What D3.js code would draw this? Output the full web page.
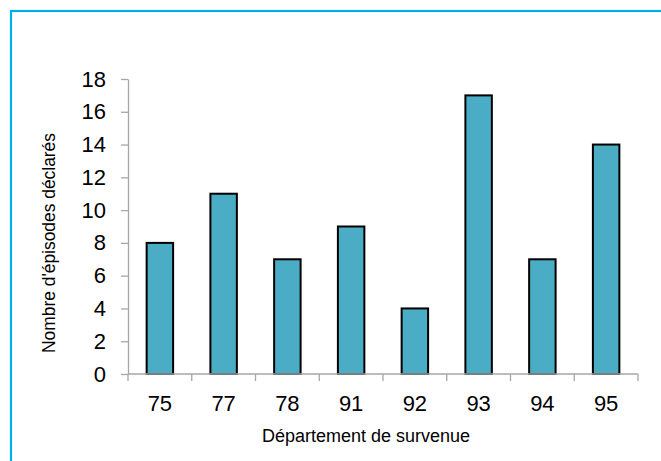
<!DOCTYPE html>
<html>
<head>
<meta charset="utf-8">
<script src="https://cdn.jsdelivr.net/npm/d3@7"></script>
<style>
  html, body { margin: 0; padding: 0; background: #fff; }
  svg { display: block; }
</style>
</head>
<body>
<svg id="chart" width="661" height="461"></svg>
<script>
// Episodes declared per département
const departements = ["75", "77", "78", "91", "92", "93", "94", "95"];
const episodes = [8, 11, 7, 9, 4, 17, 7, 14];
const yTicks = [0, 2, 4, 6, 8, 10, 12, 14, 16, 18];
const xTitle = "Département de survenue";
const yTitle = "Nombre d'épisodes déclarés";

const svg = d3.select("#chart");
const plotLeft = 128, plotRight = 638, plotTop = 79, plotBottom = 374;

// outer frame (open at right/bottom edges of the view)
svg.append("rect")
  .attr("x", 11).attr("y", 11)
  .attr("width", 700).attr("height", 500)
  .attr("fill", "none")
  .attr("stroke", "#00AEE8")
  .attr("stroke-width", 2.2);

const x = d3.scaleBand().domain(departements).range([plotLeft, plotRight]).paddingInner(0).paddingOuter(0);
const y = d3.scaleLinear().domain([0, 18]).range([plotBottom, plotTop]);

const axisColor = "#A6A6A6";
const tickFont = "'Liberation Sans', Arial, sans-serif";

// y axis
const yAxis = svg.append("g")
  .attr("transform", `translate(${plotLeft},0)`)
  .call(d3.axisLeft(y).tickValues(yTicks).tickSize(7).tickPadding(15).tickSizeOuter(0));
yAxis.select(".domain").attr("stroke", axisColor).attr("stroke-width", 1.3);
yAxis.selectAll(".tick line").attr("stroke", axisColor).attr("stroke-width", 1.3);
yAxis.selectAll(".tick text")
  .attr("fill", "#000")
  .style("font-family", tickFont)
  .style("font-size", "22px");

// bars
const barW = x.bandwidth() * 0.415;
svg.append("g").selectAll("rect")
  .data(departements.map((d, i) => ({ d, v: episodes[i] })))
  .join("rect")
  .attr("x", p => x(p.d) + (x.bandwidth() - barW) / 2)
  .attr("y", p => y(p.v))
  .attr("width", barW)
  .attr("height", p => y(0) - y(p.v))
  .attr("fill", "#4BACC6")
  .attr("stroke", "#000")
  .attr("stroke-width", 2);

// x axis with ticks at category boundaries
const xg = svg.append("g").attr("transform", `translate(0,${plotBottom})`);
xg.append("line")
  .attr("x1", plotLeft).attr("x2", plotRight)
  .attr("stroke", axisColor).attr("stroke-width", 1.3);
const bounds = departements.map(d => x(d)).concat([plotRight]);
xg.selectAll("line.tk").data(bounds).join("line")
  .attr("class", "tk")
  .attr("x1", d => d).attr("x2", d => d)
  .attr("y1", 0).attr("y2", 7)
  .attr("stroke", axisColor).attr("stroke-width", 1.3);
xg.selectAll("text").data(departements).join("text")
  .attr("x", d => x(d) + x.bandwidth() / 2)
  .attr("y", 37)
  .attr("text-anchor", "middle")
  .style("font-family", tickFont)
  .style("font-size", "22px")
  .text(d => d);

// axis titles
const titleFont = "'Liberation Sans Narrow', 'Arial Narrow', 'Liberation Sans', Arial, sans-serif";
svg.append("text")
  .attr("x", 366).attr("y", 442)
  .attr("text-anchor", "middle")
  .style("font-family", titleFont)
  .style("font-size", "18px")
  .attr("textLength", 208)
  .attr("lengthAdjust", "spacingAndGlyphs")
  .text(xTitle);

svg.append("text")
  .attr("transform", "translate(55,243) rotate(-90)")
  .attr("text-anchor", "middle")
  .style("font-family", titleFont)
  .style("font-size", "18px")
  .attr("textLength", 220)
  .attr("lengthAdjust", "spacingAndGlyphs")
  .text(yTitle);
</script>
</body>
</html>
